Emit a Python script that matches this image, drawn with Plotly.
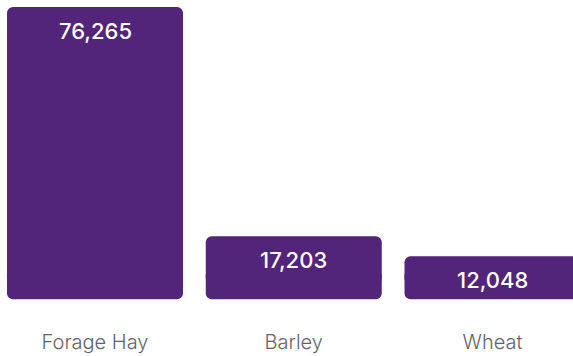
import plotly.graph_objects as go

crops = ["Forage Hay", "Barley", "Wheat"]
tonnes = [76265, 17203, 12048]
value_labels = ["76,265", "17,203", "12,048"]

BAR_COLOR = "#52247A"

# vertical scale: pixels per tonne and plot height in pixels
PX_PER_UNIT = 0.0038773
PLOT_H = 302.7
INSET = 3.7 / PX_PER_UNIT        # small gap between axis baseline and bar bottoms
FOOT = 30 / PX_PER_UNIT          # rounded foot piece under each bar
RADIUS = 6
BAR_W = 0.8855

# main body of each bar (rounded top), reaching up to the value
body_base = [INSET + FOOT / 2] * len(tonnes)
body_len = [v - b for v, b in zip(tonnes, body_base)]

bar_marker = dict(color=BAR_COLOR, cornerradius=RADIUS, line=dict(width=0))

fig = go.Figure()
fig.add_trace(go.Bar(
    x=crops, y=[-FOOT] * len(crops), base=[INSET + FOOT] * len(crops),
    width=BAR_W, marker=bar_marker, hoverinfo="skip",
))
fig.add_trace(go.Bar(
    x=crops, y=body_len, base=body_base,
    width=BAR_W, marker=bar_marker, hoverinfo="skip",
))

# value labels just below the top of each bar
for crop, val, lab in zip(crops, tonnes, value_labels):
    fig.add_annotation(
        x=crop, y=val, text=lab, showarrow=False,
        yanchor="middle", yshift=-24,
        font=dict(family="Inter", size=22, color="white", weight=500),
    )

fig.update_layout(
    width=573, height=356,
    margin=dict(l=0, r=0, t=0, b=356 - PLOT_H),
    paper_bgcolor="white", plot_bgcolor="white",
    barmode="overlay",
    showlegend=False,
    xaxis=dict(
        range=[-0.478, 2.405],
        showgrid=False, zeroline=False, showline=False,
        ticks="", ticklabelstandoff=25,
        tickfont=dict(family="Inter", size=20, color="#5f6470", weight=300),
    ),
    yaxis=dict(range=[0, PLOT_H / PX_PER_UNIT], visible=False),
)

fig.write_html("out.html")
